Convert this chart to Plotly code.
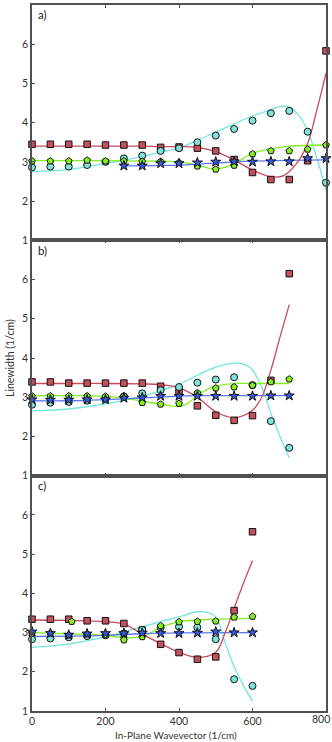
import plotly.graph_objects as go
from plotly.subplots import make_subplots

# ---------------- data: panel a ----------------
a_x = [0, 50, 100, 150, 200, 250, 300, 350, 400, 450, 500, 550, 600, 650, 700, 750, 800]
a_sq = [3.45, 3.45, 3.45, 3.45, 3.43, 3.43, 3.43, 3.37, 3.38, 3.35, 3.28, 3.06, 2.73, 2.55, 2.55, 3.03, 5.83]
a_ci = [2.86, 2.88, 2.88, 2.92, 3.00, 3.09, 3.16, 3.28, 3.35, 3.50, 3.67, 3.84, 4.05, 4.24, 4.30, 3.77, 2.47]
a_pe = [3.02, 3.02, 3.02, 3.04, 3.02, 3.02, 3.01, 3.01, 2.98, 2.89, 2.81, 2.91, 3.20, 3.28, 3.28, 3.32, 3.43]
a_st_x = [250, 300, 350, 400, 450, 500, 550, 600, 650, 700, 750, 800]
a_st = [2.90, 2.90, 2.96, 2.96, 2.98, 3.00, 3.01, 3.00, 3.01, 3.01, 3.09, 3.09]

a_red_x = [0, 100, 200, 300, 350, 400, 450, 500, 550, 600, 650, 685, 720, 750, 775, 800]
a_red_y = [3.40, 3.40, 3.40, 3.40, 3.39, 3.39, 3.37, 3.26, 3.05, 2.79, 2.62, 2.65, 2.96, 3.47, 4.32, 5.26]
a_cyan_x = [0, 100, 200, 250, 300, 350, 400, 450, 500, 550, 600, 650, 675, 700, 725, 750, 775, 800]
a_cyan_y = [2.75, 2.81, 2.96, 3.04, 3.14, 3.25, 3.36, 3.55, 3.76, 3.97, 4.17, 4.33, 4.41, 4.40, 4.20, 3.80, 3.10, 2.28]
a_green_x = [0, 100, 200, 300, 400, 450, 500, 550, 600, 650, 700, 800]
a_green_y = [3.03, 3.03, 3.03, 3.02, 3.00, 2.92, 2.82, 2.95, 3.22, 3.33, 3.40, 3.43]
a_blue_x = [250, 300, 350, 400, 500, 550, 600, 700, 800]
a_blue_y = [2.90, 2.90, 2.91, 2.92, 2.97, 3.00, 3.02, 3.04, 3.05]

# ---------------- data: panel b ----------------
b_x = [0, 50, 100, 150, 200, 250, 300, 350, 400, 450, 500, 550, 600, 650, 700]
b_sq = [3.39, 3.39, 3.36, 3.36, 3.36, 3.36, 3.36, 3.28, 3.14, 2.78, 2.54, 2.41, 2.53, 3.43, 6.15]
b_ci = [2.81, 2.86, 2.88, 2.91, 2.95, 3.02, 3.10, 3.18, 3.26, 3.37, 3.45, 3.51, 3.31, 2.39, 1.71]
b_pe = [3.03, 3.03, 3.03, 3.03, 3.02, 3.03, 2.86, 2.82, 2.84, 3.11, 3.23, 3.26, 3.30, 3.39, 3.46]
b_st = [2.94, 2.93, 2.93, 2.94, 2.94, 2.98, 2.99, 3.03, 3.03, 3.03, 3.03, 3.03, 3.03, 3.04, 3.04]

b_red_x = [0, 100, 200, 300, 350, 400, 450, 500, 550, 600, 625, 650, 675, 700]
b_red_y = [3.35, 3.35, 3.35, 3.34, 3.32, 3.24, 3.00, 2.63, 2.48, 2.67, 3.00, 3.69, 4.54, 5.36]
b_cyan_x = [0, 100, 200, 300, 350, 400, 450, 500, 550, 585, 600, 625, 650, 675, 700]
b_cyan_y = [2.65, 2.70, 2.83, 3.03, 3.17, 3.33, 3.56, 3.77, 3.87, 3.81, 3.69, 3.26, 2.59, 1.99, 1.45]
b_green_x = [0, 100, 200, 250, 300, 350, 400, 425, 450, 500, 550, 600, 700]
b_green_y = [3.04, 3.04, 3.02, 2.97, 2.90, 2.82, 2.77, 2.85, 3.05, 3.28, 3.35, 3.35, 3.35]
b_blue_x = [0, 100, 200, 300, 400, 500, 700]
b_blue_y = [2.91, 2.91, 2.94, 2.98, 3.03, 3.04, 3.04]

# ---------------- data: panel c ----------------
c_x = [0, 50, 100, 150, 200, 250, 300, 350, 400, 450, 500, 550, 600]
c_sq = [3.34, 3.34, 3.34, 3.30, 3.30, 3.23, 3.06, 2.70, 2.49, 2.32, 2.38, 3.56, 5.57]
c_ci = [2.83, 2.85, 2.88, 2.91, 2.93, 2.98, 3.07, 3.12, 3.15, 3.13, 2.83, 1.81, 1.64]
c_pe_x = [0, 50, 100, 108, 150, 200, 250, 300, 350, 400, 450, 500, 550, 600]
c_pe = [2.98, 2.98, 2.93, 3.28, 2.96, 2.94, 2.81, 2.89, 3.17, 3.27, 3.28, 3.29, 3.39, 3.41]
c_st = [3.02, 2.98, 2.94, 2.97, 2.98, 2.98, 2.99, 2.98, 2.98, 2.99, 3.02, 3.00, 3.00]

c_red_x = [0, 100, 200, 250, 275, 300, 350, 400, 450, 500, 525, 550, 575, 600]
c_red_y = [3.32, 3.31, 3.28, 3.22, 3.10, 2.96, 2.72, 2.50, 2.37, 2.50, 2.98, 3.62, 4.25, 4.83]
c_cyan_x = [0, 100, 200, 300, 350, 400, 450, 475, 500, 525, 550, 575, 600]
c_cyan_y = [2.62, 2.71, 2.89, 3.15, 3.28, 3.40, 3.53, 3.52, 3.40, 2.75, 2.13, 1.66, 1.25]
c_green_x = [0, 100, 200, 250, 300, 350, 400, 450, 500, 600]
c_green_y = [3.00, 2.97, 2.93, 2.87, 2.90, 3.13, 3.28, 3.32, 3.34, 3.36]
c_blue_x = [0, 100, 200, 300, 400, 600]
c_blue_y = [2.90, 2.91, 2.93, 2.97, 2.99, 3.00]

x_ticks = [0, 200, 400, 600, 800]
x_tick_labels = ["0", "200", "400", "600", "800"]
panel_labels = ["a)", "b)", "c)"]

# ---------------- styles ----------------
RED, CYAN, GREEN, BLUE = "#c4505e", "#7fe3da", "#84f01c", "#3558e8"
RED_L, CYAN_L, GREEN_L, BLUE_L = "#c94a5a", "#72e6de", "#80f020", "#5b78f5"
FONT = "Lato"
AX = "#505050"
TICKFONT = dict(family=FONT, size=10.5, color="#333")

fig = make_subplots(rows=3, cols=1, shared_xaxes=True, vertical_spacing=0)

panels = [
    dict(x=a_x, sq=a_sq, ci=a_ci, pe_x=a_x, pe=a_pe, st_x=a_st_x, st=a_st,
         lines=[(a_cyan_x, a_cyan_y, CYAN_L), (a_green_x, a_green_y, GREEN_L),
                (a_blue_x, a_blue_y, BLUE_L), (a_red_x, a_red_y, RED_L)]),
    dict(x=b_x, sq=b_sq, ci=b_ci, pe_x=b_x, pe=b_pe, st_x=b_x, st=b_st,
         lines=[(b_cyan_x, b_cyan_y, CYAN_L), (b_green_x, b_green_y, GREEN_L),
                (b_blue_x, b_blue_y, BLUE_L), (b_red_x, b_red_y, RED_L)]),
    dict(x=c_x, sq=c_sq, ci=c_ci, pe_x=c_pe_x, pe=c_pe, st_x=c_x, st=c_st,
         lines=[(c_cyan_x, c_cyan_y, CYAN_L), (c_green_x, c_green_y, GREEN_L),
                (c_blue_x, c_blue_y, BLUE_L), (c_red_x, c_red_y, RED_L)]),
]

for i, p in enumerate(panels):
    r = i + 1
    for lx, ly, col in p["lines"]:
        fig.add_trace(go.Scatter(x=lx, y=ly, mode="lines",
                                 line=dict(color=col, width=1.3, shape="spline", smoothing=1.0),
                                 showlegend=False, hoverinfo="skip"), row=r, col=1)
    mk = dict(line=dict(color="#111111", width=1))
    fig.add_trace(go.Scatter(x=p["x"], y=p["sq"], mode="markers", cliponaxis=False,
                             marker=dict(symbol="square", size=6.5, color=RED, **mk),
                             showlegend=False), row=r, col=1)
    fig.add_trace(go.Scatter(x=p["x"], y=p["ci"], mode="markers", cliponaxis=False,
                             marker=dict(symbol="circle", size=7, color=CYAN, **mk),
                             showlegend=False), row=r, col=1)
    fig.add_trace(go.Scatter(x=p["pe_x"], y=p["pe"], mode="markers", cliponaxis=False,
                             marker=dict(symbol="pentagon", size=7, color=GREEN, **mk),
                             showlegend=False), row=r, col=1)
    fig.add_trace(go.Scatter(x=p["st_x"], y=p["st"], mode="markers", cliponaxis=False,
                             marker=dict(symbol="star", size=7.5, color=BLUE, **mk),
                             showlegend=False), row=r, col=1)

# the last tick label sits flush with the right edge, so it is drawn as an annotation
axis_tick_text = x_tick_labels[:-1] + [""]

for r in (1, 2, 3):
    fig.update_xaxes(range=[0, 800], tickvals=x_ticks, ticktext=axis_tick_text,
                     ticks="inside", ticklen=3,
                     tickcolor=AX, tickwidth=1.2, showline=True, linecolor=AX, linewidth=1.6,
                     mirror="ticks", showgrid=False, zeroline=False, automargin=False,
                     showticklabels=(r == 3), tickfont=TICKFONT,
                     row=r, col=1)
    yt = [1, 2, 3, 4, 5, 6, 7] if r == 1 else [1, 2, 3, 4, 5, 6]
    fig.update_yaxes(range=[1, 7], tickvals=yt, ticks="inside", ticklen=3,
                     tickcolor=AX, tickwidth=1.2, showline=True, linecolor=AX, linewidth=1.6,
                     mirror=True, showgrid=False, zeroline=False, automargin=False,
                     tickfont=TICKFONT, row=r, col=1)

fig.add_annotation(text=x_tick_labels[-1], xref="paper", yref="paper", x=1.0, y=-0.0108,
                   xanchor="right", yanchor="middle", xshift=6, showarrow=False,
                   font=TICKFONT)

# x title
fig.add_annotation(text="In-Plane Wavevector (1/cm)", xref="paper", yref="paper",
                   x=0.49, y=-0.0345, xanchor="center", yanchor="middle", showarrow=False,
                   font=dict(family=FONT, size=10, color="#333"))

# y title (centered on whole stack)
fig.add_annotation(text="Linewidth (1/cm)", xref="paper", yref="paper", x=-0.075, y=0.5,
                   textangle=-90, showarrow=False, xanchor="center", yanchor="middle",
                   font=dict(family=FONT, size=10.5, color="#333"))

yrefs = ["y domain", "y2 domain", "y3 domain"]
xrefs = ["x domain", "x2 domain", "x3 domain"]
for i, lab in enumerate(panel_labels):
    fig.add_annotation(text=lab, xref=xrefs[i], yref=yrefs[i], x=0.012, y=0.995,
                       xanchor="left", yanchor="top", showarrow=False,
                       font=dict(family=FONT, size=11.5, color="#222"))

fig.update_layout(width=332, height=742, margin=dict(l=32, r=6, t=5, b=31),
                  plot_bgcolor="white", paper_bgcolor="white", showlegend=False)

fig.write_html("out.html", config={"displayModeBar": False},
               post_script="document.body.style.margin='0px';")
